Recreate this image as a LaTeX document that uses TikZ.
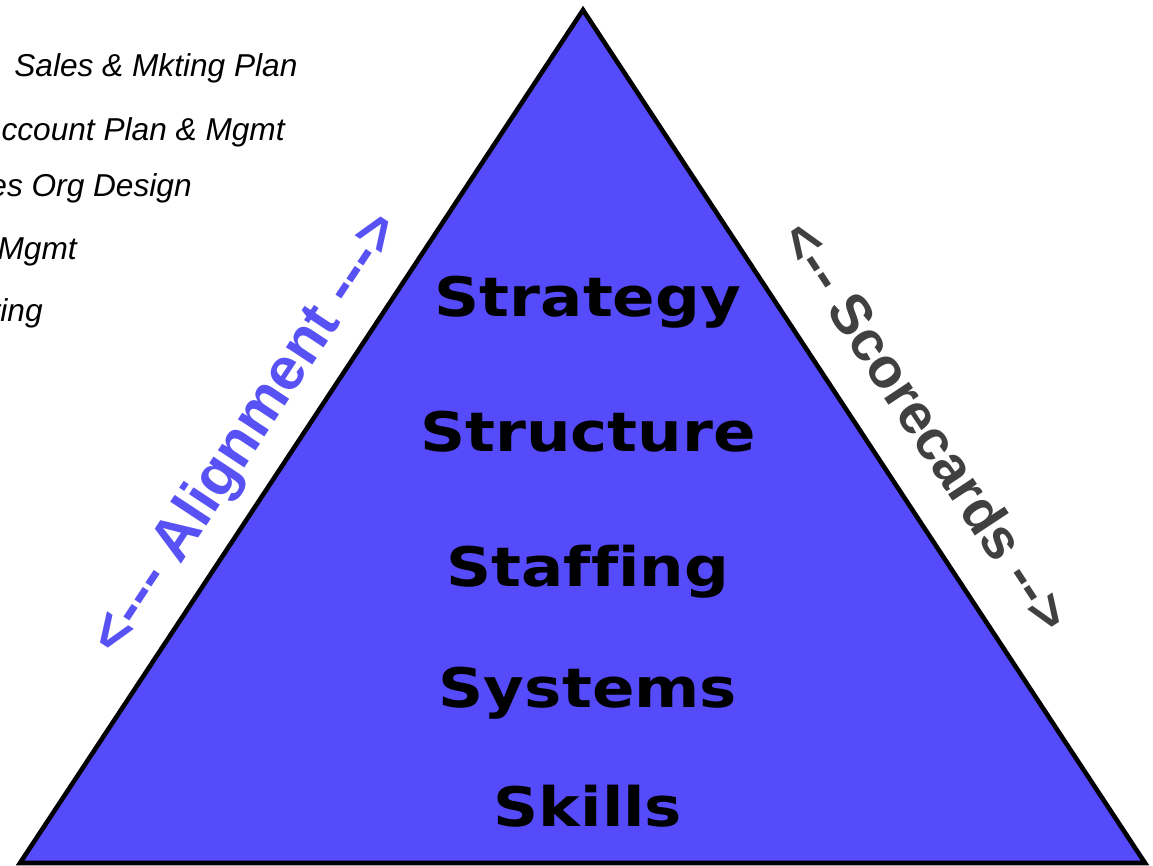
\documentclass[tikz,border=0pt]{standalone}
\usepackage{fontspec}
\usepackage{xcolor}
\usepackage{tikz}
\usetikzlibrary{positioning}
\newfontfamily\tierfont{DejaVu Sans}[FakeStretch=1.15,Ligatures=NoCommon]
\newfontfamily\labelfont{Liberation Sans}[Ligatures=TeXOff]
\definecolor{pyramidblue}{RGB}{85,75,250}
\definecolor{alignblue}{RGB}{88,82,245}
\definecolor{scoregrey}{RGB}{64,64,64}
\tikzset{level node/.style={font={\tierfont\bfseries\fontsize{31}{31}\selectfont},inner sep=0pt},
  side label/.style={font={\labelfont\bfseries\fontsize{34}{34}\selectfont},inner sep=0pt},
  plan item/.style={font={\labelfont\itshape\fontsize{18}{18}\selectfont},inner sep=0pt,anchor=base east},}

\begin{document}
\begin{tikzpicture}
       \useasboundingbox (0,0) rectangle (23.06,17.32);

       % the pyramid
       \coordinate (top) at (11.66,17.12);
       \coordinate (left) at (0.40,0.06);
       \coordinate (right) at (22.90,0.06);
       \draw[fill=pyramidblue,line width=2.6pt] (left) -- (top) -- (right) -- cycle;

       \node[level node] (strategy) at (11.76,10.98) [anchor=base]{Strategy};
       \node[level node] (structure) [below = 2.7cm of strategy.base, anchor=base]{Structure};
       \node[level node] (staffing) [below = 2.7cm of structure.base, anchor=base]{Staffing};
       \node[level node] (systems) [below = 2.42cm of staffing.base, anchor=base]{Systems};
       \node[level node] (skills) [below = 2.38cm of systems.base, anchor=base]{Skills};

       % labels along the sides
       \node[side label,text=alignblue,rotate=56.6] (alignment) at (4.96,8.62) {<--- Alignment --->};
       \node[side label,text=scoregrey,rotate=-56.6,font={\labelfont\bfseries\fontsize{32}{32}\selectfont}] (scorecards) at (18.54,8.80) {<-- Scorecards -->};

       % plan items, top left
       \node[plan item,anchor=base west] (mktplan) at (0.28,15.78) {Sales \& Mkting Plan};
       \node[plan item] (acctplan) at (5.70,14.50) {ccount Plan \& Mgmt};
       \node[plan item] (orgdesign) at (3.84,13.38) {es Org Design};
       \node[plan item] (mgmt) at (1.54,12.12) {Mgmt};
       \node[plan item] (ting) at (0.86,10.88) {ting};
\end{tikzpicture}
\end{document}
